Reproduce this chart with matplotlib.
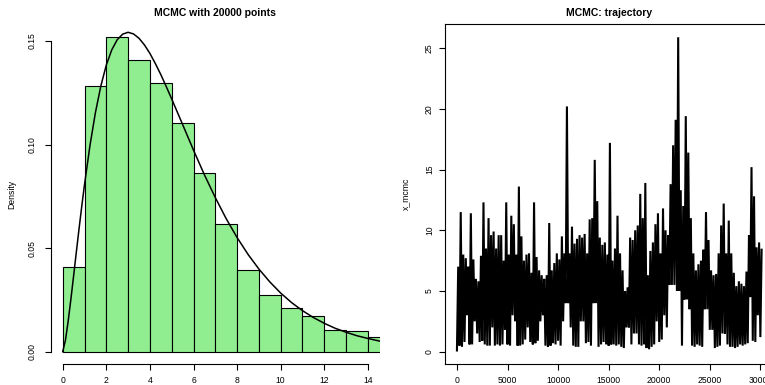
import matplotlib
matplotlib.use("Agg")
import matplotlib.pyplot as plt
import numpy as np

plt.rcParams["font.family"] = ["Liberation Sans", "DejaVu Sans"]

# ---------------------------------------------------------------------------
# Data
# ---------------------------------------------------------------------------
# histogram of the chain, unit bins 0..15, density scale
bin_edges = list(range(0, 16))
hist_density = [0.0407, 0.1281, 0.1519, 0.1409, 0.1297, 0.1104, 0.0864, 0.0615,
                0.0393, 0.0275, 0.0209, 0.0171, 0.0106, 0.0098, 0.0069]

# target density curve drawn over the histogram
curve_x = [0, 0.125, 0.25, 0.375, 0.5, 0.625, 0.75, 0.875, 1, 1.25, 1.5, 1.75,
           2, 2.25, 2.5, 2.75, 3, 3.25, 3.5, 3.75, 4, 4.25, 4.5, 4.75, 5, 5.5,
           6, 6.5, 7, 7.5, 8, 8.5, 9, 9.5, 10, 10.5, 11, 11.5, 12, 12.5, 13,
           13.5, 14, 14.5, 15]
curve_y = [0.0, 0.0055, 0.0147, 0.0253, 0.0366, 0.0481, 0.0594, 0.0703, 0.0807,
           0.0995, 0.1154, 0.1283, 0.1384, 0.1457, 0.1506, 0.1533, 0.1542, 0.1534,
           0.1513, 0.1481, 0.1440, 0.1391, 0.1338, 0.1280, 0.1220, 0.1097, 0.0973,
           0.0854, 0.0744, 0.0642, 0.0551, 0.0470, 0.0399, 0.0337, 0.0283, 0.0237,
           0.0198, 0.0165, 0.0137, 0.0113, 0.0094, 0.0077, 0.0064, 0.0052, 0.0043]

# trajectory: lowest / highest value of x_mcmc in each block of 250 iterations
block = 250
traj_lo = [0.1, 0.5, 0.4, 0.8, 3.0, 0.6, 0.6, 2.5, 1.5, 0.8,
           0.9, 0.6, 0.5, 0.5, 2.0, 0.5, 0.6, 0.5, 0.6, 1.8,
           0.6, 0.5, 3.0, 2.5, 0.5, 0.5, 0.6, 1.0, 2.0, 0.8,
           0.6, 0.7, 0.9, 2.5, 3.0, 0.5, 0.4, 0.5, 0.7, 0.6,
           0.9, 0.5, 2.5, 4.0, 4.0, 2.0, 0.5, 0.4, 0.4, 2.5,
           2.5, 0.7, 0.8, 0.5, 4.0, 4.0, 0.4, 0.6, 0.8, 0.6,
           0.5, 0.6, 0.6, 0.5, 0.6, 0.4, 0.3, 2.0, 2.0, 0.6,
           1.5, 1.5, 0.6, 0.5, 0.6, 0.3, 0.2, 0.4, 0.6, 2.5,
           0.8, 1.0, 3.0, 2.0, 5.5, 5.5, 5.5, 5.0, 5.0, 0.5,
           4.3, 4.3, 3.5, 0.5, 0.4, 0.6, 0.5, 0.4, 3.5, 3.5,
           1.8, 1.8, 0.3, 0.4, 0.5, 1.5, 1.5, 0.6, 0.4, 0.4,
           0.3, 0.4, 0.6, 0.5, 0.6, 0.7, 4.5, 0.9, 0.8, 3.0,
           1.2]
traj_hi = [7.0, 11.5, 8.0, 7.7, 7.0, 11.4, 7.6, 6.0, 5.8, 7.9,
           12.3, 8.5, 11.0, 9.6, 9.9, 8.5, 9.6, 9.6, 7.5, 12.3,
           8.0, 11.2, 10.5, 8.0, 13.6, 9.5, 7.5, 8.0, 8.1, 6.5,
           12.3, 7.8, 6.7, 6.3, 6.0, 6.3, 10.6, 6.7, 7.3, 8.1,
           7.6, 9.5, 8.1, 20.2, 8.1, 10.3, 8.9, 9.3, 9.6, 9.4,
           9.7, 8.1, 10.9, 11.0, 15.8, 12.4, 9.4, 8.8, 9.0, 8.0,
           17.2, 7.5, 8.5, 11.2, 8.1, 6.7, 5.0, 5.3, 9.4, 9.2,
           10.0, 10.4, 13.0, 11.0, 13.9, 6.3, 8.3, 9.0, 10.5, 11.4,
           8.1, 11.8, 10.0, 9.6, 13.8, 17.0, 19.1, 25.9, 13.3, 12.0,
           19.4, 16.4, 11.0, 8.1, 6.7, 7.2, 7.5, 8.4, 11.5, 9.2,
           6.7, 6.3, 6.4, 8.1, 10.4, 12.2, 8.1, 10.8, 8.1, 6.5,
           5.4, 5.8, 5.6, 5.4, 6.6, 9.6, 15.2, 12.8, 8.6, 9.0,
           8.4]

FS = 6.2


def r_style(ax, ylab_pad):
    ax.tick_params(axis="x", length=4.0, width=0.8, labelsize=FS, pad=4.5)
    ax.tick_params(axis="y", length=4.0, width=0.8, labelsize=FS, pad=ylab_pad)
    for lab in ax.get_yticklabels():
        lab.set_rotation(90)
        lab.set_va("center")


fig = plt.figure(figsize=(7.65, 3.85), dpi=100)

# ---------------------------------------------------------------------------
# Left: histogram + density
# ---------------------------------------------------------------------------
ax1 = fig.add_axes([50.5 / 765, 21 / 385, 329.6 / 765, 340 / 385])
ax1.bar(bin_edges[:-1], hist_density, width=1, align="edge",
        color="#90ee90", edgecolor="black", linewidth=0.8)
ax1.plot(curve_x, curve_y, color="black", lw=1.1)
ax1.set_xlim(-0.56, 14.56)
ax1.set_ylim(-0.00594, 0.1582)
ax1.spines["top"].set_visible(False)
ax1.spines["right"].set_visible(False)
ax1.spines["bottom"].set_bounds(0, 14)
ax1.spines["left"].set_bounds(0, 0.15)
ax1.set_xticks(range(0, 15, 2))
ax1.set_yticks([0, 0.05, 0.10, 0.15])
ax1.set_yticklabels(["0.00", "0.05", "0.10", "0.15"])
r_style(ax1, 6.0)
ax1.set_ylabel("Density", fontsize=FS)
ax1.yaxis.set_label_coords(-34.5 / 329.6, 0.5)
ax1.set_title("MCMC with 20000 points", fontsize=7.5, fontweight="bold", pad=6)

# ---------------------------------------------------------------------------
# Right: trajectory (one low/high swing per block)
# ---------------------------------------------------------------------------
ax2 = fig.add_axes([444.8 / 765, 21 / 385, 327.7 / 765, 340 / 385])
iters = np.arange(len(traj_hi)) * block
xs = np.column_stack([iters, iters + block / 2]).ravel()
ys = np.column_stack([traj_lo, traj_hi]).ravel()
ax2.plot(xs, ys, color="black", lw=1.5, solid_joinstyle="miter")
ax2.set_xlim(-1200, 31200)
ax2.set_ylim(-1.013, 26.99)
ax2.set_xticks(range(0, 30001, 5000))
ax2.set_yticks(range(0, 26, 5))
r_style(ax2, 3.8)
ax2.set_ylabel("x_mcmc", fontsize=FS)
ax2.yaxis.set_label_coords(-34.5 / 327.7, 0.5)
ax2.set_title("MCMC: trajectory", fontsize=7.5, fontweight="bold", pad=6)

fig.savefig("out.png", dpi=100)
